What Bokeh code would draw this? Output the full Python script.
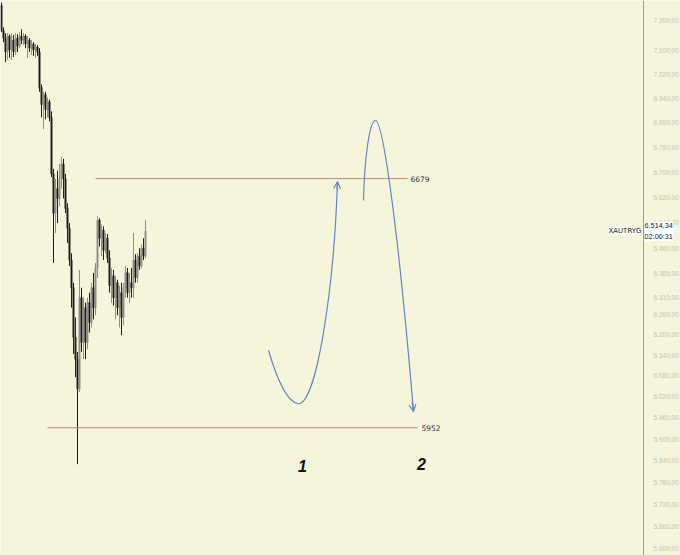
from bokeh.plotting import figure
from bokeh.models import Range1d, FixedTicker, Label, Arrow, OpenHead, ColumnDataSource
from bokeh.embed import file_html
from bokeh.resources import INLINE
from bokeh.core.properties import value

# ---- candle data (XAUTRYG) ----
opens = [7253, 7168, 7141, 7094, 7148, 7101, 7134, 7094, 7141, 7114,
         7148, 7134, 7148, 7121, 7134, 7107, 7121, 7101, 7111, 7094,
         6975, 6919, 6952, 6902, 6928, 6876, 6694, 6570, 6647, 6616,
         6678, 6726, 6678, 6585, 6523, 6425, 6341, 6193, 6129, 6043,
         6311, 6178, 6281, 6178, 6296, 6237, 6341, 6281, 6401, 6548,
         6492, 6517, 6455, 6492, 6431, 6347, 6377, 6311, 6356, 6281,
         6326, 6252, 6341, 6386, 6326, 6356, 6341, 6425, 6371, 6437,
         6407, 6461, 6437]
closes = [7168, 7141, 7094, 7148, 7101, 7134, 7094, 7141, 7114, 7148,
          7134, 7148, 7121, 7134, 7107, 7121, 7101, 7111, 7094, 6975,
          6919, 6952, 6902, 6928, 6876, 6694, 6570, 6647, 6616, 6678,
          6726, 6678, 6585, 6523, 6425, 6341, 6193, 6129, 6043, 6311,
          6178, 6281, 6178, 6296, 6237, 6341, 6281, 6401, 6548, 6492,
          6517, 6455, 6492, 6431, 6347, 6377, 6311, 6356, 6281, 6326,
          6252, 6341, 6386, 6326, 6356, 6341, 6425, 6371, 6437, 6407,
          6461, 6437, 6514]
highs = [7263, 7178, 7158, 7158, 7154, 7158, 7151, 7158, 7154, 7161,
         7171, 7158, 7154, 7148, 7141, 7134, 7127, 7121, 7117, 7107,
         6985, 6961, 6961, 6942, 6935, 6896, 6710, 6678, 6704, 6726,
         6748, 6742, 6694, 6601, 6539, 6446, 6356, 6252, 6150, 6395,
         6341, 6311, 6296, 6311, 6326, 6356, 6386, 6416, 6560, 6554,
         6535, 6529, 6508, 6505, 6455, 6401, 6395, 6377, 6365, 6347,
         6356, 6356, 6407, 6401, 6386, 6401, 6508, 6443, 6446, 6461,
         6473, 6492, 6548]
lows = [7161, 7127, 7060, 7067, 7074, 7067, 7077, 7084, 7094, 7107,
        7121, 7117, 7107, 7074, 7094, 7084, 7081, 7074, 7081, 6961,
        6876, 6838, 6870, 6876, 6864, 6684, 6416, 6508, 6539, 6591,
        6647, 6616, 6570, 6477, 6407, 6281, 6144, 6077, 5830, 6034,
        6150, 6129, 6129, 6158, 6207, 6222, 6246, 6258, 6371, 6467,
        6437, 6425, 6446, 6416, 6326, 6296, 6287, 6246, 6258, 6222,
        6199, 6228, 6311, 6311, 6296, 6311, 6311, 6356, 6356, 6395,
        6401, 6425, 6431]
last_price = 6514.34
last_price_text = "6.514,34"
countdown_text = "02:00:31"
symbol = "XAUTRYG"

# ---- price axis labels ----
tick_values = [7200, 7100, 7020, 6940, 6860, 6780, 6700, 6620, 6540, 6460,
               6385, 6310, 6260, 6200, 6140, 6080, 6020, 5960, 5900, 5840,
               5780, 5720, 5660, 5600]
tick_labels = ["7.200,00", "7.100,00", "7.020,00", "6.940,00", "6.860,00",
               "6.780,00", "6.700,00", "6.620,00", "6.540,00", "6.460,00",
               "6.385,00", "6.310,00", "6.260,00", "6.200,00", "6.140,00",
               "6.080,00", "6.020,00", "5.960,00", "5.900,00", "5.840,00",
               "5.780,00", "5.720,00", "5.660,00", "5.600,00"]
axis_bar = 321  # bar index where the price scale begins

# ---- horizontal levels drawn on the chart ----
level_prices = [6679, 5932]
level_start = [47, 23]
level_end = [203, 208]
level_texts = ["6679", "5952"]
level_text_x = [204.5, 210]

# ---- projected path (bar index, price) ----
path1_quad = dict(x0=[133.5], y0=[6155], cx=[141], cy=[6006], x1=[148.5], y1=[6000])
path1_cubic = dict(x0=[148.5], y0=[6000], cx0=[157], cy0=[6000],
                   cx1=[166], cy1=[6311], x1=[168], y1=[6669])
path2_up = dict(x0=[181], y0=[6610], cx0=[181.5], cy0=[6742],
                cx1=[184], cy1=[6867], x1=[187], y1=[6867])
path2_down = dict(x0=[187], y0=[6867], cx0=[190], cy0=[6867],
                  cx1=[197], cy1=[6616], x1=[206], y1=[5978])
arrow1 = (167.75, 6644, 168, 6669)
arrow2 = (205.25, 6006, 206, 5978)
wave_labels = ["1", "2"]
wave_x = [150.5, 210]
wave_y = [5825, 5830]

BG = "#f5f5dc"
BULL = "#8e8e86"
BEAR = "#1c1c1c"
BLUE = "#5f86c8"
RED = "#c6847a"

idx = list(range(len(opens)))
colors = [BULL if c >= o else BEAR for o, c in zip(opens, closes)]
top = [max(o, c) for o, c in zip(opens, closes)]
bot = [min(o, c) for o, c in zip(opens, closes)]
src = ColumnDataSource(dict(x=idx, o=opens, c=closes, h=highs, l=lows,
                            top=top, bot=bot, color=colors))

p = figure(width=680, height=555, output_backend="svg", toolbar_location=None,
           x_range=Range1d(-0.5, 339.5), y_range=Range1d(5582, 7270),
           y_axis_type="log", y_axis_location="right", x_axis_location=None,
           min_border=0, background_fill_color=BG, border_fill_color=BG)
p.outline_line_color = None
p.grid.visible = False

ax = p.yaxis[0]
ax.fixed_location = axis_bar
ax.ticker = FixedTicker(ticks=tick_values, minor_ticks=[])
ax.major_label_overrides = {v: s for v, s in zip(tick_values, tick_labels)}
ax.major_label_text_font_size = "6.5px"
ax.major_label_text_color = "#c4c4b6"
ax.major_label_text_font = "Liberation Sans"
ax.major_label_standoff = 4
ax.major_tick_line_color = None
ax.minor_tick_line_color = None
ax.axis_line_color = "#9c9c96"

p.segment(x0="x", y0="l", x1="x", y1="h", color="color", line_width=1, source=src)
p.vbar(x="x", width=0.7, top="top", bottom="bot", fill_color="color",
       line_color="color", line_width=0.5, source=src)

# levels
p.segment(x0=level_start, y0=level_prices, x1=level_end, y1=level_prices,
          line_color=RED, line_width=1)
p.text(x=level_text_x, y=level_prices, text=level_texts, text_font_size="7.5px",
       text_color="#333333", text_baseline="middle", text_align="left",
       text_font=value("DejaVu Sans"))

# path
p.quadratic(line_color=BLUE, line_width=1.2, **path1_quad)
p.bezier(line_color=BLUE, line_width=1.2, **path1_cubic)
p.bezier(line_color=BLUE, line_width=1.2, **path2_up)
p.bezier(line_color=BLUE, line_width=1.2, **path2_down)
for a in (arrow1, arrow2):
    p.add_layout(Arrow(end=OpenHead(size=7, line_color=BLUE, line_width=1.2),
                       x_start=a[0], y_start=a[1], x_end=a[2], y_end=a[3],
                       line_color=BLUE, line_width=1.2))

p.text(x=wave_x, y=wave_y, text=wave_labels, text_font_size="16px",
       text_font_style="bold italic", text_color="#111111",
       text_align="center", text_baseline="middle",
       text_font=value("Liberation Sans"))

# symbol / last price tags
p.add_layout(Label(x=axis_bar, y=last_price, text=symbol, text_align="right",
                   text_baseline="middle", x_offset=-2, text_font_size="7px",
                   text_color="#222222", background_fill_color="white",
                   text_font="DejaVu Sans"))
p.add_layout(Label(x=axis_bar, y=last_price, text=last_price_text + "\n" + countdown_text,
                   text_align="left", text_baseline="middle", x_offset=1,
                   text_font_size="7.3px", text_color="#222222",
                   background_fill_color="white", text_font="Liberation Sans"))

open("out.html", "w").write(file_html(p, INLINE))
